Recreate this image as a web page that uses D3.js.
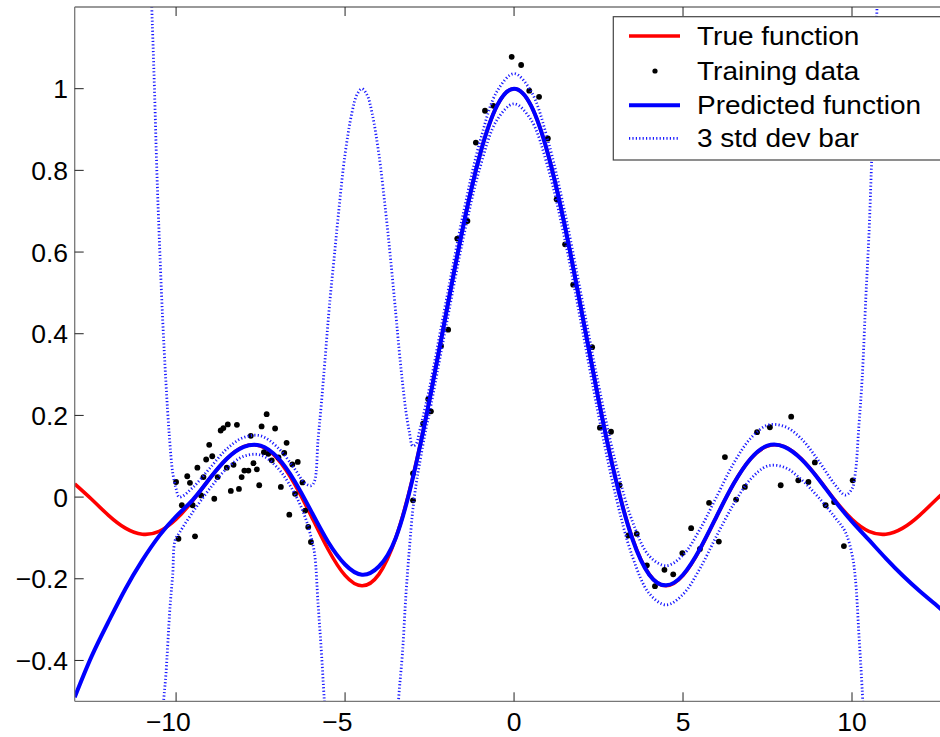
<!DOCTYPE html>
<html><head><meta charset="utf-8">
<script src="https://cdn.jsdelivr.net/npm/d3@7"></script>
<style>html,body{margin:0;padding:0;background:#fff;overflow:hidden}</style>
</head><body><div id="chart"></div>
<script>
const xTicks = [-10, -5, 0, 5, 10];
const yTicks = [-0.4, -0.2, 0, 0.2, 0.4, 0.6, 0.8, 1];
const legendLabels = ["True function", "Training data", "Predicted function", "3 std dev bar"];

const curveX = [-13,-12.5,-12,-11.5,-11,-10.5,-10,-9.5,-9,-8.5,-8,-7.5,-7,-6.5,-6,-5.5,-5,-4.5,-4,-3.5,-3,-2.5,-2,-1.5,-1,-0.5,0,0.5,1,1.5,2,2.5,3,3.5,4,4.5,5,5.5,6,6.5,7,7.5,8,8.5,9,9.5,10,10.5,11,11.5,12,12.5,13];
const trueY = [0.0323,-0.0053,-0.0447,-0.0761,-0.0909,-0.0838,-0.0544,-0.0079,0.0458,0.0939,0.1237,0.1250,0.0939,0.0330,-0.0466,-0.1283,-0.1918,-0.2172,-0.1892,-0.1002,0.0470,0.2394,0.4546,0.6650,0.8415,0.9589,1.0,0.9589,0.8415,0.6650,0.4546,0.2394,0.0470,-0.1002,-0.1892,-0.2172,-0.1918,-0.1283,-0.0466,0.0330,0.0939,0.1250,0.1237,0.0939,0.0458,-0.0079,-0.0544,-0.0838,-0.0909,-0.0761,-0.0447,-0.0053,0.0323];
const predY = [-0.49,-0.39,-0.305,-0.225,-0.155,-0.095,-0.047,-0.006,0.046,0.094,0.123,0.126,0.097,0.04,-0.035,-0.11,-0.165,-0.19,-0.17,-0.1,0.045,0.238,0.454,0.665,0.841,0.959,1.0,0.959,0.841,0.665,0.454,0.238,0.046,-0.102,-0.19,-0.216,-0.19,-0.127,-0.046,0.033,0.094,0.126,0.123,0.093,0.045,-0.01,-0.06,-0.105,-0.15,-0.192,-0.23,-0.265,-0.30];

const upperX = [-10.85,-10.72,-10.64,-10.57,-10.5,-10.4,-10.3,-10.2,-10.1,-10.0,-9.9,-9.5,-9,-8.5,-8,-7.5,-7,-6.5,-6.2,-6.0,-5.9,-5.8,-5.7,-5.6,-5.45,-5.33,-5.2,-5.0,-4.8,-4.65,-4.5,-4.35,-4.2,-4.0,-3.8,-3.65,-3.5,-3.4,-3.3,-3.2,-3.1,-3.0,-2.9,-2.8,-2.6,-2.5,-2,-1.5,-1,-0.5,0,0.5,1,1.5,2,2.5,3,3.5,4,4.5,5,5.5,6,6.5,7,7.5,8,8.5,9,9.5,9.8,10.0,10.1,10.2,10.3,10.41,10.5,10.58,10.66,10.74,10.85];
const upperY = [1.5,1.2,1.0,0.8,0.64,0.44,0.28,0.15,0.06,0.02,0.0,0.024,0.071,0.118,0.146,0.15,0.122,0.07,0.035,0.028,0.04,0.14,0.23,0.33,0.48,0.58,0.69,0.84,0.94,0.985,1.0,0.985,0.94,0.84,0.7,0.58,0.45,0.36,0.28,0.21,0.16,0.125,0.13,0.16,0.23,0.268,0.484,0.695,0.873,0.994,1.037,0.994,0.874,0.698,0.489,0.275,0.086,-0.059,-0.144,-0.168,-0.142,-0.079,0.002,0.083,0.144,0.176,0.173,0.143,0.09,0.03,0.005,0.02,0.06,0.17,0.29,0.49,0.64,0.82,1.0,1.2,1.5];

const lowerX = [-10.5,-10.36,-10.3,-10.18,-10.1,-10.03,-9.9,-9.5,-9,-8.5,-8,-7.5,-7,-6.5,-6.2,-6.0,-5.9,-5.8,-5.7,-5.6,-5.4,-5.0,-4.5,-4.0,-3.65,-3.5,-3.42,-3.3,-3.2,-3.1,-3.0,-2.9,-2.8,-2.6,-2.5,-2,-1.5,-1,-0.5,0,0.5,1,1.5,2,2.5,3,3.5,4,4.5,5,5.5,6,6.5,7,7.5,8,8.5,9,9.5,9.8,10.0,10.1,10.2,10.3,10.4];
const lowerY = [-0.63,-0.49,-0.433,-0.27,-0.19,-0.106,-0.087,-0.036,0.021,0.07,0.1,0.103,0.072,0.01,-0.045,-0.1,-0.14,-0.26,-0.38,-0.52,-0.8,-1.15,-1.38,-1.18,-0.85,-0.65,-0.5,-0.38,-0.24,-0.13,-0.035,0.03,0.08,0.17,0.208,0.424,0.635,0.809,0.924,0.963,0.924,0.808,0.632,0.419,0.201,0.006,-0.145,-0.236,-0.264,-0.238,-0.175,-0.094,-0.017,0.044,0.076,0.073,0.043,0.0,-0.05,-0.085,-0.14,-0.2,-0.33,-0.47,-0.65];

const dataX = [-10.0,-9.83,-9.93,-9.67,-9.59,-9.51,-9.44,-9.37,-9.26,-9.19,-9.11,-9.02,-8.93,-8.87,-8.77,-8.68,-8.60,-8.47,-8.50,-8.38,-8.30,-8.20,-8.14,-8.06,-7.98,-7.86,-7.79,-7.71,-7.61,-7.54,-7.47,-7.32,-7.40,-7.27,-7.17,-7.07,-6.97,-6.90,-6.80,-6.73,-6.65,-6.56,-6.40,-6.48,-6.26,-6.18,-6.09,-6.01,
 -0.07,0.21,0.45,0.74,-0.86,-0.61,-1.13,1.0,1.26,-1.38,-1.68,1.51,-1.95,-2.16,1.75,2.31,-2.54,-2.46,-2.69,-2.99,-2.99,2.54,2.87,3.12,3.38,3.63,3.93,4.17,4.45,4.71,4.98,5.24,5.50,5.77,6.06,6.57,6.83,7.89,8.41,8.71,9.22,9.47,9.76,10.02,6.24,7.19,7.57,8.2,8.9];
const dataY = [0.037,-0.020,-0.102,0.051,0.035,-0.020,-0.096,0.072,0.004,0.049,0.092,0.128,0.100,-0.004,0.049,0.163,0.169,0.178,0.072,0.015,0.079,0.177,0.020,0.049,0.065,0.065,0.150,0.083,0.068,0.029,0.173,0.203,0.110,0.106,0.090,0.168,0.097,0.025,0.108,0.133,-0.043,0.080,0.086,0.008,0.036,-0.033,-0.073,-0.110,
 1.078,1.058,0.995,0.98,0.946,0.958,0.868,0.878,0.729,0.676,0.633,0.619,0.41,0.37,0.52,0.367,0.24,0.21,0.18,0.058,-0.008,0.17,0.16,0.029,-0.094,-0.090,-0.167,-0.218,-0.178,-0.189,-0.137,-0.076,-0.127,-0.014,-0.109,-0.006,0.025,0.029,0.041,0.037,-0.020,-0.012,-0.12,0.041,0.098,0.159,0.171,0.197,0.085];

const W = 940, H = 737;
const plot = {left: 74.7, right: 953.4, top: 7, bottom: 701.3};
const x = d3.scaleLinear().domain([-13, 13]).range([plot.left, plot.right]);
const y = d3.scaleLinear().domain([-0.5, 1.2]).range([plot.bottom, plot.top]);
const FONT = "'Liberation Sans', Arial, Helvetica, sans-serif";

const svg = d3.select("#chart").append("svg").attr("width", W).attr("height", H)
  .style("display", "block").style("background", "#fff");
svg.append("rect").attr("width", W).attr("height", H).attr("fill", "#fff");

svg.append("defs").append("clipPath").attr("id", "clip")
  .append("rect").attr("x", plot.left).attr("y", plot.top)
  .attr("width", plot.right - plot.left).attr("height", plot.bottom - plot.top);

const g = svg.append("g").attr("clip-path", "url(#clip)");

const line = (xs, ys, c) => d3.line().x((d, i) => x(xs[i])).y(d => y(d)).curve(c)(ys);

// true function
g.append("path").attr("d", line(curveX, trueY, d3.curveNatural)).attr("fill", "none")
  .attr("stroke", "#ff0000").attr("stroke-width", 3.6).attr("stroke-linejoin", "round");
// training data
g.selectAll("circle.pt").data(dataX).join("circle").attr("class", "pt")
  .attr("cx", d => x(d)).attr("cy", (d, i) => y(dataY[i])).attr("r", 2.9).attr("fill", "#000");
// std bars
[[upperX, upperY], [lowerX, lowerY]].forEach(([xs, ys]) => {
  g.append("path").attr("d", line(xs, ys, d3.curveCatmullRom.alpha(0.5))).attr("fill", "none")
    .attr("stroke", "#1a1aff").attr("stroke-width", 2.8).attr("stroke-dasharray", "1.2,2.2");
});
// predicted
g.append("path").attr("d", line(curveX, predY, d3.curveNatural)).attr("fill", "none")
  .attr("stroke", "#0000ff").attr("stroke-width", 4).attr("stroke-linejoin", "round");

// axes box
const axisColor = "#777";
svg.append("line").attr("x1", plot.left).attr("x2", W).attr("y1", plot.top).attr("y2", plot.top)
  .attr("stroke", axisColor).attr("stroke-width", 1.3);
svg.append("line").attr("x1", plot.left).attr("x2", W).attr("y1", plot.bottom).attr("y2", plot.bottom)
  .attr("stroke", axisColor).attr("stroke-width", 1.3);
svg.append("line").attr("x1", plot.left).attr("x2", plot.left).attr("y1", plot.top).attr("y2", plot.bottom)
  .attr("stroke", axisColor).attr("stroke-width", 1.3);

// ticks
const tl = 9;
xTicks.forEach(t => {
  svg.append("line").attr("x1", x(t)).attr("x2", x(t)).attr("y1", plot.bottom).attr("y2", plot.bottom - tl)
    .attr("stroke", "#222").attr("stroke-width", 1);
  svg.append("line").attr("x1", x(t)).attr("x2", x(t)).attr("y1", plot.top).attr("y2", plot.top + tl)
    .attr("stroke", "#222").attr("stroke-width", 1);
});
yTicks.forEach(t => {
  svg.append("line").attr("x1", plot.left).attr("x2", plot.left + tl).attr("y1", y(t)).attr("y2", y(t))
    .attr("stroke", "#222").attr("stroke-width", 1);
});

const fmt = v => (v < 0 ? "\u2212" : "") + String(Math.abs(v));
const TF = 26.5;
// x tick labels: digits centred on tick, minus hanging left
xTicks.forEach(t => {
  const tmp = svg.append("text").attr("font-family", FONT).attr("font-size", TF).text(String(Math.abs(t)));
  const w = tmp.node().getComputedTextLength();
  tmp.remove();
  svg.append("text").attr("x", x(t) + w / 2).attr("y", 731).attr("text-anchor", "end")
    .attr("font-family", FONT).attr("font-size", TF).attr("fill", "#000").text(fmt(t));
});
yTicks.forEach(t => {
  svg.append("text").attr("x", 68).attr("y", y(t) + 9.6).attr("text-anchor", "end")
    .attr("font-family", FONT).attr("font-size", TF).attr("fill", "#000").text(fmt(t));
});

// legend
const lg = svg.append("g");
lg.append("rect").attr("x", 613.3).attr("y", 16.7).attr("width", 400).attr("height", 143.3)
  .attr("fill", "#fff").attr("stroke", "#444").attr("stroke-width", 1.2);
const rowY = [36, 71, 105.3, 138.3];
lg.append("line").attr("x1", 629).attr("x2", 680).attr("y1", rowY[0]).attr("y2", rowY[0])
  .attr("stroke", "#ff0000").attr("stroke-width", 3.6);
lg.append("circle").attr("cx", 655).attr("cy", rowY[1]).attr("r", 2.6).attr("fill", "#000");
lg.append("line").attr("x1", 629).attr("x2", 680).attr("y1", rowY[2]).attr("y2", rowY[2])
  .attr("stroke", "#0000ff").attr("stroke-width", 4);
lg.append("line").attr("x1", 629).attr("x2", 680).attr("y1", rowY[3]).attr("y2", rowY[3])
  .attr("stroke", "#1a1aff").attr("stroke-width", 2.8).attr("stroke-dasharray", "1.2,2.2");
legendLabels.forEach((s, i) => {
  lg.append("text").attr("transform", `translate(697,${rowY[i] + 9}) scale(1.12,1)`)
    .attr("font-family", FONT).attr("font-size", 25).attr("fill", "#000").text(s);
});
</script></body></html>
